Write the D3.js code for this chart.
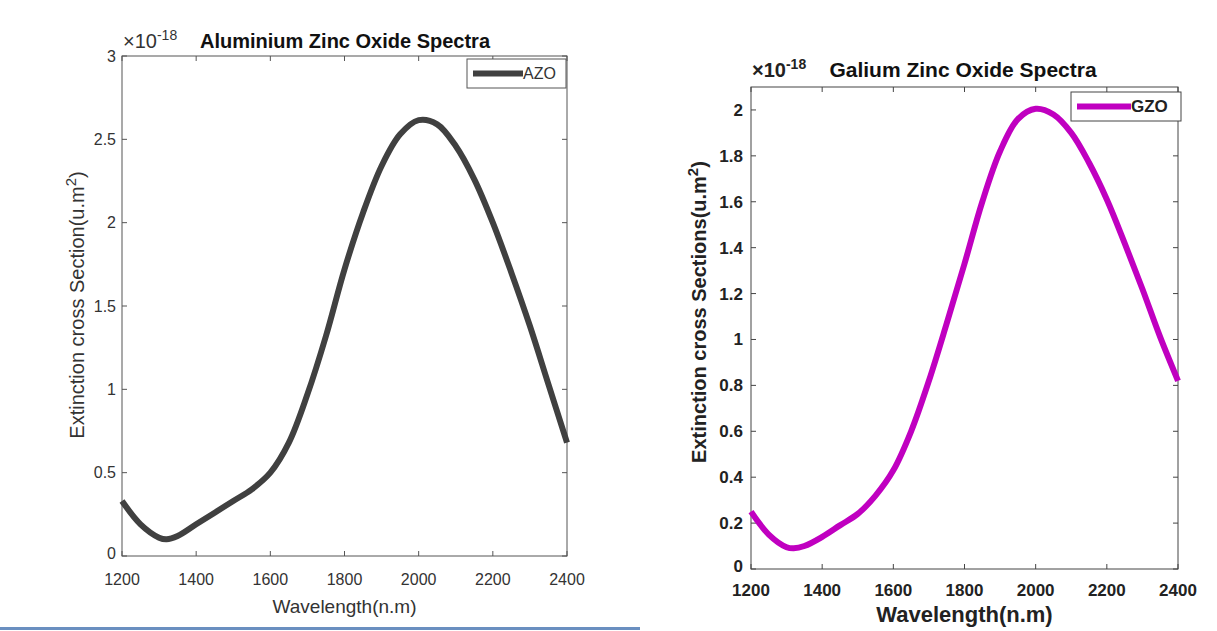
<!DOCTYPE html>
<html><head><meta charset="utf-8">
<script src="https://d3js.org/d3.v7.min.js"></script>
<style>body{margin:0;background:#fff}svg{display:block}</style>
</head><body><svg id="c" width="1217" height="631"></svg>
<script>
const wavelengths = [1200,1250,1300,1320,1350,1400,1450,1500,1550,1600,1650,1700,1750,1800,1850,1900,1950,2000,2050,2100,2150,2200,2250,2300,2350,2400];
const azo = [0.33,0.19,0.11,0.10,0.12,0.19,0.26,0.33,0.40,0.50,0.68,0.97,1.32,1.72,2.06,2.34,2.53,2.615,2.59,2.46,2.26,2.00,1.70,1.38,1.03,0.68];
const gzo = [0.25,0.15,0.095,0.09,0.10,0.14,0.19,0.24,0.32,0.43,0.60,0.82,1.07,1.33,1.60,1.82,1.96,2.005,1.98,1.90,1.77,1.61,1.42,1.22,1.01,0.82];
const xTicks = [1200,1400,1600,1800,2000,2200,2400];
const azoYTicks = [0,0.5,1,1.5,2,2.5,3];
const gzoYTicks = [0,0.2,0.4,0.6,0.8,1,1.2,1.4,1.6,1.8,2];

const svg = d3.select("#c");
svg.append("line").attr("x1",0).attr("x2",640).attr("y1",628.5).attr("y2",628.5).attr("stroke","#6a8fc0").attr("stroke-width",3);
const FF = "Liberation Sans, Arial, sans-serif";

function panel(o){
  const g = svg.append("g");
  const x = d3.scaleLinear().domain([1200,2400]).range([o.l,o.r]);
  const y = d3.scaleLinear().domain([0,o.ymax]).range([o.b,o.t]);
  const tc = o.tickColor;
  g.append("rect").attr("x",o.l).attr("y",o.t).attr("width",o.r-o.l).attr("height",o.b-o.t)
    .attr("fill","#fff").attr("stroke",o.axisColor).attr("stroke-width",1);
  const tl=5;
  xTicks.forEach(v=>{
    g.append("line").attr("x1",x(v)).attr("x2",x(v)).attr("y1",o.b).attr("y2",o.b-tl).attr("stroke",o.axisColor);
    g.append("line").attr("x1",x(v)).attr("x2",x(v)).attr("y1",o.t).attr("y2",o.t+tl).attr("stroke",o.axisColor);
    g.append("text").attr("x",x(v)).attr("y",o.b+o.xlabOff).attr("text-anchor","middle")
      .attr("font-family",FF).attr("font-size",o.fs).attr("font-weight",o.fw).attr("fill",tc).text(v);
  });
  o.yTicks.forEach(v=>{
    g.append("line").attr("x1",o.l).attr("x2",o.l+tl).attr("y1",y(v)).attr("y2",y(v)).attr("stroke",o.axisColor);
    g.append("line").attr("x1",o.r).attr("x2",o.r-tl).attr("y1",y(v)).attr("y2",y(v)).attr("stroke",o.axisColor);
    g.append("text").attr("x",o.l-o.ytOff).attr("y",y(v)).attr("dy",v===0?"0.2em":"0.35em").attr("text-anchor","end")
      .attr("font-family",FF).attr("font-size",o.fs).attr("font-weight",o.fw).attr("fill",tc).text(String(v));
  });
  const line = d3.line().x((d,i)=>x(wavelengths[i])).y(d=>y(d)).curve(d3.curveCatmullRom.alpha(0.5));
  g.append("path").datum(o.data).attr("d",line).attr("fill","none").attr("stroke",o.color)
    .attr("stroke-width",6).attr("stroke-linecap","butt").attr("stroke-linejoin","round");
  const ex = g.append("text").attr("x",o.l+1).attr("y",o.titleY)
    .attr("font-family",FF).attr("font-size",o.expFs).attr("font-weight",o.fw).attr("fill",tc);
  ex.append("tspan").text("×10");
  ex.append("tspan").attr("dy",-8).attr("font-size",o.expFs-6).text("-18");
  g.append("text").attr("x",o.titleX).attr("y",o.titleY).attr("text-anchor","middle")
    .attr("font-family",FF).attr("font-size",o.titleFs).attr("font-weight","bold").attr("fill","#111").text(o.title);
  g.append("text").attr("x",(o.l+o.r)/2).attr("y",o.b+o.xtitleOff).attr("text-anchor","middle")
    .attr("font-family",FF).attr("font-size",o.xlabFs).attr("font-weight",o.fw).attr("fill",tc).text("Wavelength(n.m)");
  const yl = g.append("text").attr("transform",`translate(${o.ylabX},${o.ylabY}) rotate(-90)`).attr("text-anchor","middle")
    .attr("font-family",FF).attr("font-size",o.ylabFs).attr("font-weight",o.fw).attr("fill",tc);
  yl.append("tspan").text(o.ylab+"(u.m");
  yl.append("tspan").attr("dy",-8).attr("font-size",o.ylabFs-5).text("2");
  yl.append("tspan").attr("dy",8).text(")");
  const L=o.leg;
  g.append("rect").attr("x",L.x).attr("y",L.y).attr("width",L.w).attr("height",L.h).attr("fill","#fff").attr("stroke",o.axisColor);
  g.append("line").attr("x1",L.x+6).attr("x2",L.x+L.lw).attr("y1",L.y+L.h/2).attr("y2",L.y+L.h/2).attr("stroke",o.color).attr("stroke-width",6);
  g.append("text").attr("x",L.x+L.lw).attr("y",L.y+L.h/2).attr("dy","0.35em")
    .attr("font-family",FF).attr("font-size",L.fs).attr("font-weight",o.fw).attr("fill",tc).text(o.name);
}

panel({l:122,r:567,t:56,b:556,ymax:3,yTicks:azoYTicks,data:azo,color:"#404040",axisColor:"#555",tickColor:"#333",
  fs:16,fw:"normal",expFs:20,titleFs:20,xlabFs:19,ylabFs:20,xlabOff:29,xtitleOff:57,ytOff:6,ylabX:84,ylabY:305,
  title:"Aluminium Zinc Oxide Spectra",titleX:345,titleY:48,ylab:"Extinction cross Section",name:"AZO",
  leg:{x:467,y:59,w:99,h:29,lw:56,fs:16}});

panel({l:751,r:1178,t:87,b:569,ymax:2.1,yTicks:gzoYTicks,data:gzo,color:"#c000c0",axisColor:"#444",tickColor:"#222",
  fs:17,fw:"bold",expFs:20,titleFs:21,xlabFs:22,ylabFs:20,xlabOff:27,xtitleOff:53,ytOff:8,ylabX:706,ylabY:312,
  title:"Galium Zinc Oxide Spectra",titleX:963,titleY:77,ylab:"Extinction cross Sections",name:"GZO",
  leg:{x:1071,y:92,w:110,h:29,lw:60,fs:17}});
</script></body></html>
